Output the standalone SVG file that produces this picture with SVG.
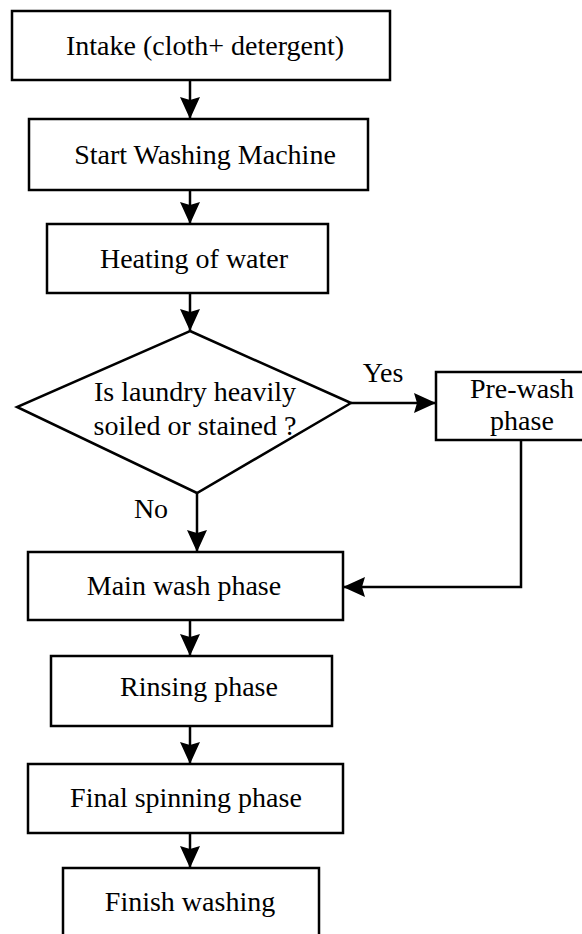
<svg xmlns="http://www.w3.org/2000/svg" width="582" height="934" viewBox="0 0 582 934">
<style>
.box{fill:#fff;stroke:#000;stroke-width:2.5}
.lbl{font-family:"Liberation Serif","Times New Roman",serif;font-size:28px;fill:#000;text-anchor:middle}
.con{fill:none;stroke:#000;stroke-width:2.5}
</style>
<defs>
<marker id="ah" markerUnits="userSpaceOnUse" markerWidth="22" markerHeight="20" refX="22" refY="10" orient="auto">
<path d="M0,0 L22,10 L0,20 L3,10 Z" fill="#000"/>
</marker>
</defs>
<rect width="582" height="934" fill="#fff"/>
<g id="connectors">
<line class="con" x1="190" y1="80" x2="190" y2="119" marker-end="url(#ah)"/>
<line class="con" x1="190" y1="190" x2="190" y2="224" marker-end="url(#ah)"/>
<line class="con" x1="190" y1="293" x2="190" y2="331" marker-end="url(#ah)"/>
<line class="con" x1="351" y1="403" x2="436" y2="403" marker-end="url(#ah)"/>
<line class="con" x1="197" y1="493" x2="197" y2="552" marker-end="url(#ah)"/>
<polyline class="con" points="521,440 521,587 343,587" marker-end="url(#ah)"/>
<line class="con" x1="190" y1="620" x2="190" y2="656" marker-end="url(#ah)"/>
<line class="con" x1="190" y1="726" x2="190" y2="764" marker-end="url(#ah)"/>
<line class="con" x1="190" y1="833" x2="190" y2="868" marker-end="url(#ah)"/>
<text class="lbl" x="383" y="382">Yes</text>
<text class="lbl" x="151" y="518">No</text>
</g>
<g id="intake">
<rect class="box" x="12" y="11" width="378" height="69"/>
<text class="lbl" x="205" y="55">Intake (cloth+ detergent)</text>
</g>
<g id="start">
<rect class="box" x="29" y="119" width="339" height="71"/>
<text class="lbl" x="205" y="164">Start Washing Machine</text>
</g>
<g id="heating">
<rect class="box" x="47" y="224" width="281" height="69"/>
<text class="lbl" x="194" y="268">Heating of water</text>
</g>
<g id="decision">
<polygon class="box" points="190,331 351,403 197,493 17,407"/>
<text class="lbl" x="195" y="401">Is laundry heavily</text>
<text class="lbl" x="195" y="435">soiled or stained ?</text>
</g>
<g id="prewash">
<rect class="box" x="436" y="372" width="160" height="68"/>
<text class="lbl" x="522" y="398">Pre-wash</text>
<text class="lbl" x="522" y="430">phase</text>
</g>
<g id="mainwash">
<rect class="box" x="28" y="552" width="315" height="68"/>
<text class="lbl" x="184" y="595">Main wash phase</text>
</g>
<g id="rinsing">
<rect class="box" x="51" y="656" width="281" height="70"/>
<text class="lbl" x="199" y="696">Rinsing phase</text>
</g>
<g id="spinning">
<rect class="box" x="28" y="764" width="315" height="69"/>
<text class="lbl" x="186" y="807">Final spinning phase</text>
</g>
<g id="finish">
<rect class="box" x="63" y="868" width="256" height="80"/>
<text class="lbl" x="190" y="911">Finish washing</text>
</g>
</svg>
